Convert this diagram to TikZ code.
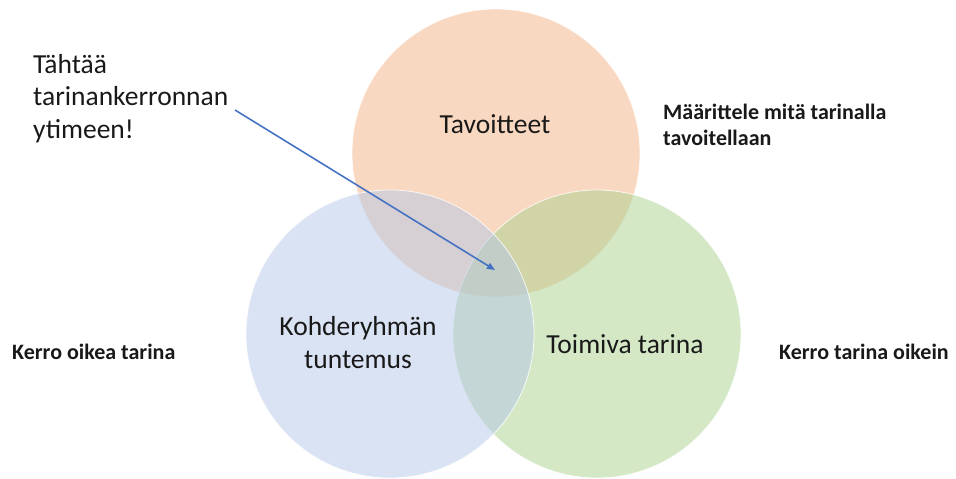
\documentclass[tikz,border=0pt]{standalone}
\usepackage{fontspec}
\setmainfont{Carlito}
\usepackage{tikz}
\usetikzlibrary{arrows.meta,positioning}
\definecolor{goalC}{RGB}{244,177,131}
\definecolor{groupC}{RGB}{180,199,231}
\definecolor{storyC}{RGB}{169,209,142}
\definecolor{arrowC}{RGB}{68,114,196}
\definecolor{inkC}{RGB}{25,25,25}

\begin{document}
\begin{tikzpicture}[x=1pt,y=-1pt,
  venn/.style={circle,minimum size=288pt,inner sep=0pt,draw=white,line width=0.8pt,fill opacity=0.5,draw opacity=0.8},
  bigtext/.style={font=\fontsize{27.5}{32.5}\selectfont,text=inkC,align=center,inner sep=0pt},
  note/.style={font=\bfseries\fontsize{22}{26}\selectfont,text=inkC,align=left,inner sep=0pt}]
  \useasboundingbox (0,0) rectangle (956,479);

  % circles
  \node[venn,fill=goalC] (goal) at (496,153) {};
  \node[venn,fill=storyC] (story) at (597,334) {};
  \node[venn,fill=groupC] (group) at (390,334) {};

  % circle texts (base = last line)
  \node[bigtext,anchor=base] (goaltxt) at (495,133) {Tavoitteet};
  \node[bigtext,anchor=base] (grouptxt) at (358,368) {Kohderyhmän\\tuntemus};
  \node[bigtext,anchor=base] (storytxt) at (625,353) {Toimiva tarina};

  % side notes
  \node[bigtext,align=left,anchor=base west] (aim) at (33,138) {Tähtää\\tarinankerronnan\\ytimeen!};
  \node[note,anchor=base west] (define) at (663,145) {Määrittele mitä tarinalla\\tavoitellaan};
  \node[note,anchor=base west] (rightstory) at (12,359) {Kerro oikea tarina};
  \node[note,anchor=base west] (storyright) at (779,359) {Kerro tarina oikein};

  % pointer to the core
  \coordinate (aimtail) at (235,110);
  \coordinate (core) at (495,270);
  \draw[arrowC,line width=1.6pt,-{Triangle[length=8pt,width=6.5pt]}] (aimtail) -- (core);
\end{tikzpicture}
\end{document}
